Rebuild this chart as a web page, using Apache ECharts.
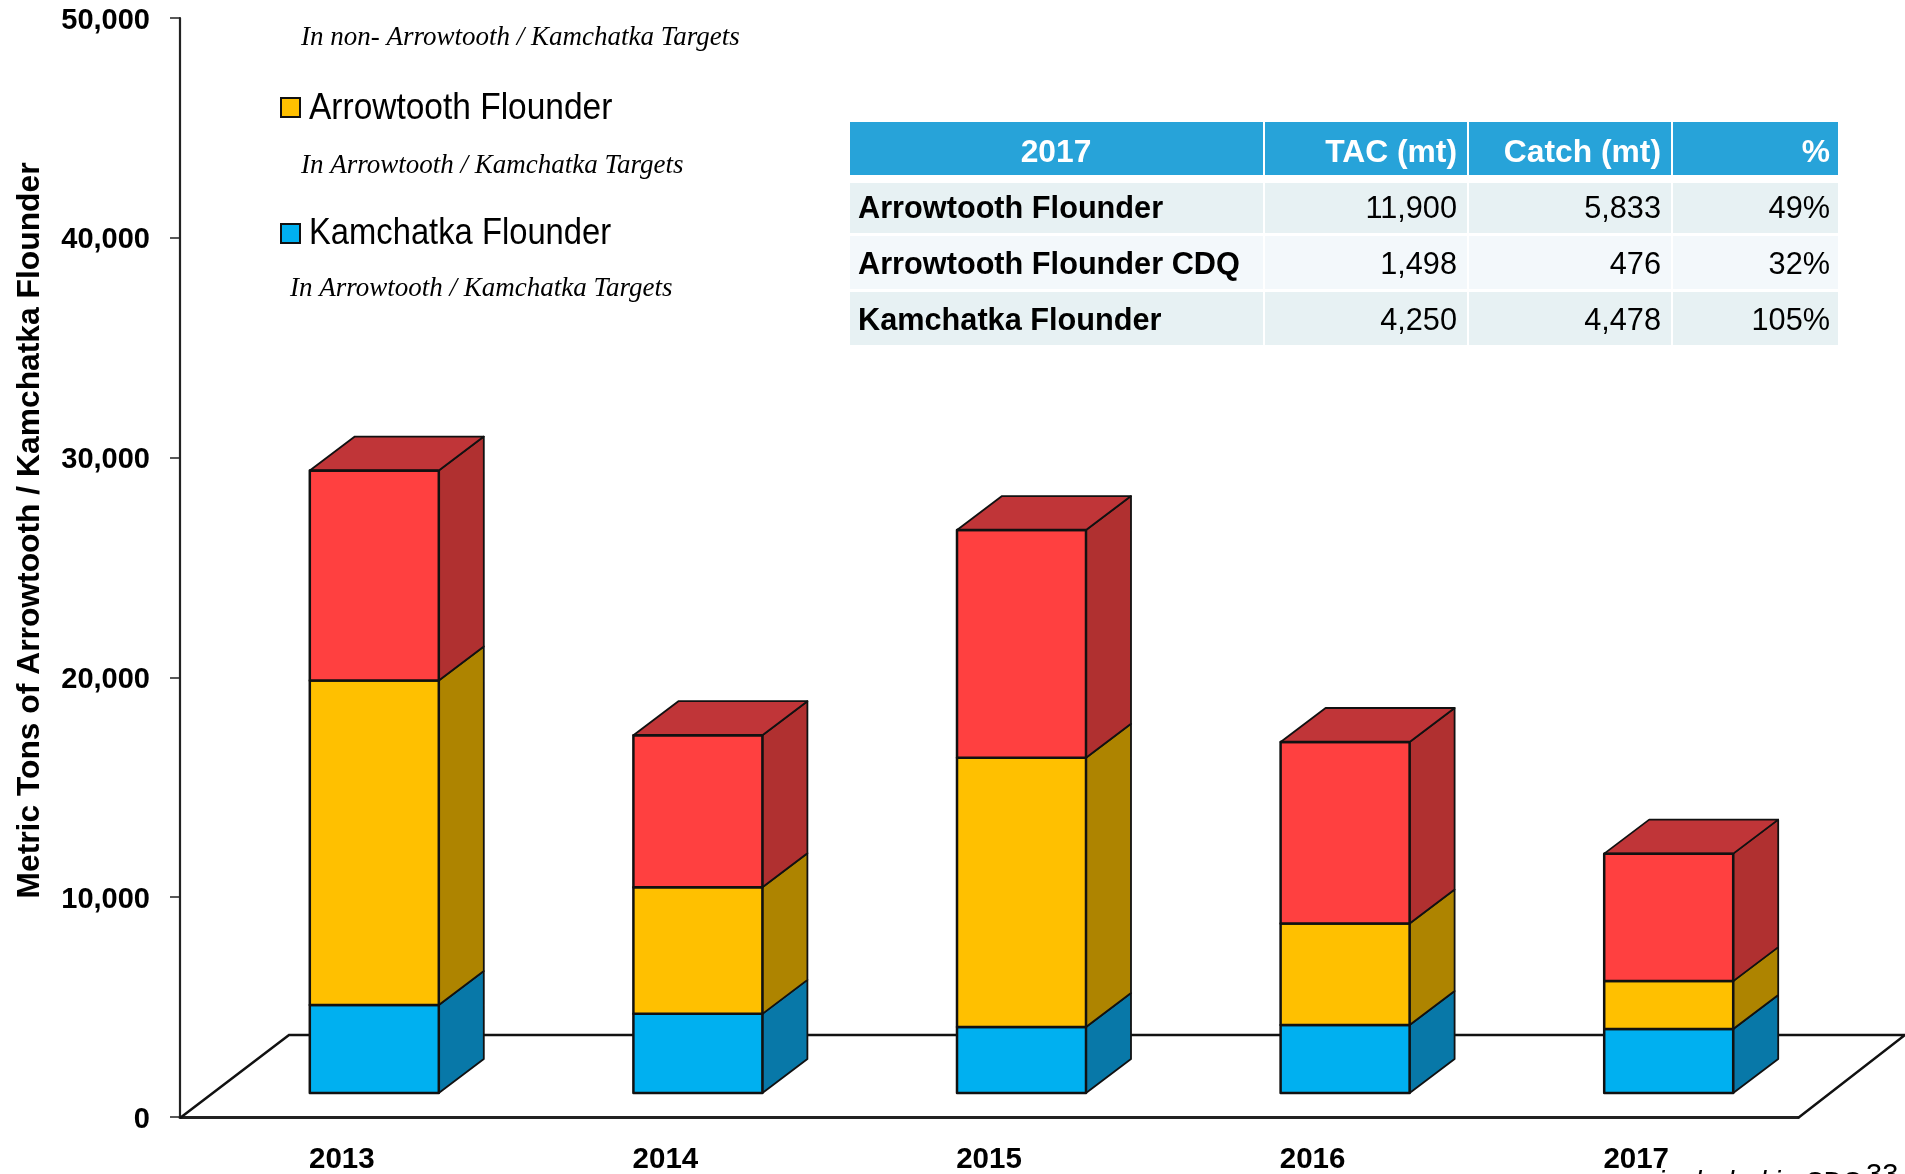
<!DOCTYPE html>
<html>
<head>
<meta charset="utf-8">
<style>html,body{margin:0;padding:0;background:#fff}#c{width:1905px;height:1174px}</style>
<script src="https://cdn.jsdelivr.net/npm/echarts@6/dist/echarts.min.js"></script>
</head>
<body>
<div id="c"></div>
<script>
const years = ['2013', '2014', '2015', '2016', '2017'];
const kamchatka = [4000, 3600, 3000, 3090, 2910];
const arrowtooth = [14770, 5760, 12250, 4620, 2180];
const nonTarget = [9550, 6920, 10360, 8260, 5800];
const yTicks = { min: 0, max: 50000, interval: 10000 };

const tableHeader = ['2017', 'TAC (mt)', 'Catch (mt)', '%'];
const tableNames = ['Arrowtooth Flounder', 'Arrowtooth Flounder CDQ', 'Kamchatka Flounder'];
const tableTac = ['11,900', '1,498', '4,250'];
const tableCatch = ['5,833', '476', '4,478'];
const tablePct = ['49%', '32%', '105%'];

const legendNames = ['Arrowtooth Flounder', 'Kamchatka Flounder'];
const noteNon = 'In non- Arrowtooth / Kamchatka Targets';
const noteTarget = 'In Arrowtooth / Kamchatka Targets';

const SANS = '"Liberation Sans", Arial, sans-serif';
const SERIF = '"Liberation Serif", "Times New Roman", serif';
const EDGE = '#111';

// bar box geometry (pixel style only; positions come from the axes)
const box = { fromCenter: -32, width: 129, dx: 45, dy: 34, lift: 24 };

function stackData(values, below) {
  return values.map((v, i) => [i, below[i], below[i] + v]);
}
const zero = years.map(() => 0);
const b1 = kamchatka;
const b2 = kamchatka.map((v, i) => v + arrowtooth[i]);

function boxRender(front, side, top, isTop) {
  return function (params, api) {
    const i = api.value(0);
    const c0 = api.coord([i, api.value(1)]);
    const c1 = api.coord([i, api.value(2)]);
    const x0 = c0[0] + box.fromCenter, x1 = x0 + box.width;
    const yb = c0[1] - box.lift, yt = c1[1] - box.lift;
    const dx = box.dx, dy = box.dy;
    const stroke = { stroke: EDGE, lineWidth: 2.5, lineJoin: 'round' };
    const kids = [
      { type: 'polygon', shape: { points: [[x1, yb], [x1 + dx, yb - dy], [x1 + dx, yt - dy], [x1, yt]] },
        style: Object.assign({ fill: side }, stroke, { lineWidth: 1.8 }) },
      { type: 'rect', shape: { x: x0, y: yt, width: box.width, height: yb - yt },
        style: Object.assign({ fill: front }, stroke) }
    ];
    if (isTop) {
      kids.push({ type: 'polygon', shape: { points: [[x0, yt], [x0 + dx, yt - dy], [x1 + dx, yt - dy], [x1, yt]] },
        style: Object.assign({ fill: top }, stroke, { lineWidth: 1.8 }) });
      kids.push({ type: 'line', shape: { x1: x0, y1: yt, x2: x1, y2: yt }, style: Object.assign({}, stroke) });
    }
    return { type: 'group', children: kids };
  };
}

function floorRender(params, api) {
  const cs = params.coordSys;
  const y0 = api.coord([0, 0])[1] + 1;
  const pts = [[cs.x, y0], [cs.x + 109, y0 - 83], [cs.x + cs.width + 107, y0 - 83], [cs.x + cs.width, y0]];
  return { type: 'polyline', shape: { points: pts }, style: { fill: null, stroke: EDGE, lineWidth: 2.5 } };
}

function txt(text, x, y, o, sx) {
  const el = { type: 'text', x: x, y: y, silent: true, z: 20,
    style: Object.assign({ text: text, fill: '#000', font: '30.7px ' + SANS, textAlign: 'left', textVerticalAlign: 'middle', verticalAlign: 'middle' }, o || {}) };
  if (sx) el.scaleX = sx;
  return el;
}
function rect(x, y, w, h, fill, extra) {
  return { type: 'rect', silent: true, z: 19, shape: { x: x, y: y, width: w, height: h },
    style: Object.assign({ fill: fill }, extra || {}) };
}

const colX = [850, 1264, 1468, 1672, 1839];
const rowY = [[122, 175], [183, 233], [236, 289], [292, 345]];
const cells = [];
colX.slice(0, 4).forEach((x, c) => {
  rowY.forEach((r, k) => {
    const fill = k === 0 ? '#27A3D9' : (k === 2 ? '#F3F8FB' : '#E7F1F3');
    cells.push(rect(x + (c ? 1 : 0), r[0], colX[c + 1] - x - (c ? 1 : 0) - 1, r[1] - r[0], fill));
  });
});
const rightEdge = [0, 1457, 1661, 1830];
tableHeader.forEach((h, c) => {
  cells.push(txt(h, c === 0 ? 1056 : rightEdge[c], 153, { fill: '#fff', font: 'bold 31.8px ' + SANS, textAlign: c === 0 ? 'center' : 'right' }));
});
tableNames.forEach((n, k) => {
  const y = [210, 266, 322][k];
  cells.push(txt(n, 858, y, { font: 'bold 30.7px ' + SANS }));
  cells.push(txt(tableTac[k], rightEdge[1], y, { textAlign: 'right' }));
  cells.push(txt(tableCatch[k], rightEdge[2], y, { textAlign: 'right' }));
  cells.push(txt(tablePct[k], rightEdge[3], y, { textAlign: 'right' }));
});

const legendBits = [
  txt(noteNon, 301, 38, { font: 'italic 27px ' + SERIF }),
  rect(281, 98, 19, 19, '#FFC000', { stroke: EDGE, lineWidth: 2 }),
  txt(legendNames[0], 309, 109, { font: '37px ' + SANS }, 0.905),
  txt(noteTarget, 301, 166, { font: 'italic 27px ' + SERIF }),
  rect(281, 224, 19, 19, '#00B0F0', { stroke: EDGE, lineWidth: 2 }),
  txt(legendNames[1], 309, 234, { font: '37px ' + SANS }, 0.885),
  txt(noteTarget, 290, 289, { font: 'italic 27px ' + SERIF }),
  txt('included in', 1658, 1184, { font: 'italic 29px ' + SANS }),
  txt('CDQ', 1805, 1183, { font: '26px ' + SANS }),
  txt('33', 1866, 1176, { font: '29px ' + SANS })
];

const chart = echarts.init(document.getElementById('c'), null, { renderer: 'canvas', width: 1905, height: 1174 });
const boxSeries = (name, values, below, front, side, top, isTop, z) => ({
  name: name, type: 'custom', coordinateSystem: 'cartesian2d', clip: false, z: z,
  encode: { x: 0, y: 2 }, data: stackData(values, below),
  renderItem: boxRender(front, side, top, isTop), animation: false, silent: true
});
chart.setOption({
  animation: false,
  backgroundColor: '#fff',
  grid: { left: 180, top: 18, width: 1618, height: 1099, containLabel: false, outerBoundsMode: 'none' },
  xAxis: {
    type: 'category', data: years,
    axisLine: { lineStyle: { color: '#222', width: 3 } },
    axisTick: { alignWithLabel: false, length: 10, lineStyle: { color: '#222', width: 1.5 } },
    axisLabel: { color: '#000', fontFamily: SANS, fontWeight: 'bold', fontSize: 29.5, margin: 28 }
  },
  yAxis: {
    type: 'value', min: yTicks.min, max: yTicks.max, interval: yTicks.interval,
    name: 'Metric Tons of Arrowtooth / Kamchatka Flounder',
    nameLocation: 'middle', nameGap: 134, nameRotate: 90,
    nameTextStyle: { color: '#000', fontFamily: SANS, fontWeight: 'bold', fontSize: 31.8, padding: [0, 0, 0, 74] },
    splitLine: { show: false },
    axisLine: { show: true, lineStyle: { color: '#222', width: 2.2 } },
    axisTick: { show: true, length: 10, lineStyle: { color: '#222', width: 1.5 } },
    axisLabel: { color: '#000', fontFamily: SANS, fontWeight: 'bold', fontSize: 29, margin: 30,
      verticalAlign: 'top', lineHeight: 5,
      formatter: v => v.toLocaleString('en-US') }
  },
  graphic: { elements: legendBits.concat(cells) },
  series: [
    { name: 'Floor', type: 'custom', coordinateSystem: 'cartesian2d', clip: false, z: 1, silent: true,
      encode: { x: 0, y: 1 }, data: [[0, 0]], renderItem: floorRender, animation: false },
    boxSeries(legendNames[1], kamchatka, zero, '#00B0F0', '#0878A8', '#0878A8', false, 3),
    boxSeries(legendNames[0], arrowtooth, b1, '#FFC000', '#AE8400', '#AE8400', false, 4),
    boxSeries(noteNon, nonTarget, b2, '#FF4040', '#B03030', '#C03538', true, 5)
  ]
});
</script>
</body>
</html>
